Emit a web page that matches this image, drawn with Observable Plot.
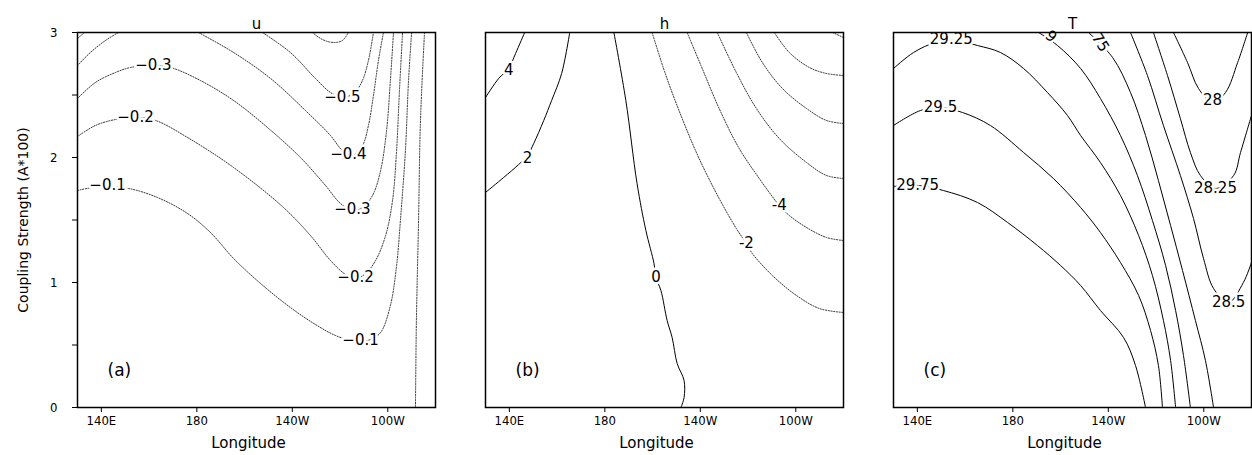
<!DOCTYPE html>
<html><head><meta charset="utf-8">
<script src="https://cdn.jsdelivr.net/npm/d3@7"></script>
<script src="https://cdn.jsdelivr.net/npm/@observablehq/plot@0.6"></script>
<style>
body{margin:0;background:#fff;}
#chart{width:1252px;height:455px;overflow:hidden;}
</style></head><body><div id="chart"></div>
<script>
// ---------- panels, ticks ----------
const panels = ["u", "h", "T"];
const panelTags = ["(a)", "(b)", "(c)"];
const xTicks = [140, 180, 220, 260];
const xTickLabels = ["140E", "180", "140W", "100W"];
const yTicks = [0, 0.5, 1, 1.5, 2, 2.5, 3];
const yTickLabels = ["0", "", "1", "", "2", "", "3"];

// ---------- panel (a) u : contours [longitude (deg E), coupling strength] ----------
const u_m06  = [[228.4,3.0],[232.6,2.944],[237.2,2.92],[241.0,2.936],[243.5,3.0]];
const u_m05a = [[130,2.952],[132.9,3.0]];
const u_m05  = [[207.5,3.0],[219.2,2.84],[229.7,2.632],[236.0,2.52],[241.0,2.48],[246.1,2.52],[249.4,2.616],[251.9,2.776],[254.0,3.0]];
const u_m04a = [[130,2.736],[135.4,2.84],[141.7,2.936],[147.2,3.0]];
const u_m04  = [[180.7,3.0],[195.4,2.84],[210.9,2.632],[225.5,2.376],[236.0,2.176],[241.0,2.056],[245.2,2.016],[249.4,2.096],[251.9,2.256],[254.0,2.496],[256.1,2.776],[258.2,3.0]];
const u_m03  = [[130,2.472],[137.5,2.6],[145.9,2.68],[152.2,2.72],[161.8,2.736],[169.0,2.72],[181.5,2.616],[195.4,2.456],[209.6,2.24],[223.4,2.0],[233.9,1.776],[240.2,1.632],[245.2,1.576],[249.4,1.6],[253.6,1.696],[257.0,1.896],[259.5,2.216],[261.1,2.616],[262.4,3.0]];
const u_m02  = [[130,2.168],[137.5,2.256],[145.9,2.304],[154.3,2.32],[162.7,2.296],[176.1,2.16],[195.4,1.92],[216.3,1.6],[227.6,1.376],[236.0,1.176],[242.3,1.064],[246.5,1.032],[250.7,1.072],[254.9,1.176],[259.1,1.376],[262.0,1.656],[263.7,2.056],[264.9,2.536],[266.2,3.0]];
const u_m01  = [[130,1.736],[139.6,1.768],[151.4,1.752],[163.5,1.68],[176.1,1.552],[185.7,1.40],[195.4,1.192],[206.7,0.992],[219.2,0.80],[229.7,0.664],[238.1,0.576],[246.5,0.528],[252.8,0.544],[257.0,0.60],[261.1,0.816],[263.7,1.136],[265.3,1.496],[267.4,2.056],[268.7,2.616],[270.0,3.0]];
const u_0    = [[275.4,3.0],[273.7,2.296],[272.9,1.496],[272.0,0.696],[271.6,0]];
const uLabels = [["−0.3",161.8,2.736],["−0.2",154.3,2.32],["−0.1",142.6,1.776],["−0.5",241.0,2.48],["−0.4",243.5,2.03],["−0.3",245.2,1.59],["−0.2",246.5,1.04],["−0.1",248.6,0.536]];

// ---------- panel (b) h ----------
const h_4   = [[130,2.48],[135.5,2.632],[139.7,2.712],[142.6,2.832],[146.4,3.0]];
const h_2   = [[130,1.72],[137.6,1.84],[143.9,1.944],[147.6,2.016],[150.2,2.112],[154.4,2.296],[157.7,2.456],[161.9,2.672],[165.3,3.0]];
const h_0   = [[183.8,3.0],[188.8,2.456],[193.5,1.792],[197.2,1.416],[200.6,1.152],[201.4,1.04],[203.5,0.936],[206.1,0.696],[208.2,0.56],[210.3,0.352],[213.2,0.216],[213.2,0.08],[211.9,0]];
const h_m2  = [[199.8,3.0],[205.6,2.656],[212.4,2.312],[219.5,1.992],[227.9,1.672],[235.1,1.432],[239.3,1.312],[241.8,1.232],[250.2,1.056],[260.3,0.896],[269.9,0.792],[280,0.76]];
const h_m4  = [[214.5,3.0],[220.8,2.712],[227.9,2.392],[236.3,2.072],[244.7,1.832],[248.9,1.72],[253.1,1.616],[257.3,1.536],[264.5,1.44],[272.9,1.36],[280,1.336]];
const h_m6  = [[227.1,3.0],[235.1,2.68],[243.5,2.392],[253.1,2.152],[264.5,1.96],[272.9,1.856],[280,1.832]];
const h_m8  = [[239.3,3.0],[246.0,2.76],[254.4,2.552],[264.5,2.392],[272.9,2.296],[280,2.272]];
const h_m10 = [[251.0,3.0],[257.3,2.84],[265.7,2.72],[272.9,2.672],[280,2.656]];
const h_m12 = [[275.4,3.0],[280,2.96]];
const hLabels = [["4",139.7,2.696],["2",147.6,1.992],["0",201.4,1.04],["-2",239.3,1.312],["-4",253.1,1.616]];

// ---------- panel (c) T ----------
const T_2975 = [[130,1.768],[140.5,1.776],[150.9,1.736],[165.2,1.64],[177.8,1.48],[190.3,1.296],[200.0,1.136],[208.4,0.976],[216.7,0.776],[226.4,0.56],[231.4,0.336],[235.6,0]];
const T_295  = [[130,2.256],[141.3,2.376],[149.7,2.4],[158.9,2.36],[170.6,2.256],[184.5,2.04],[197.0,1.832],[208.4,1.6],[216.7,1.4],[225.1,1.16],[232.7,0.896],[237.7,0.616],[241.0,0.336],[242.7,0]];
const T_2925 = [[130,2.712],[138.4,2.84],[147.6,2.92],[156.0,2.936],[165.2,2.896],[174.8,2.84],[184.5,2.712],[194.5,2.52],[202.9,2.336],[208.4,2.176],[216.7,1.96],[225.1,1.696],[232.7,1.376],[238.5,1.056],[243.1,0.696],[246.1,0.376],[248.2,0]];
const T_29   = [[190.8,3.0],[198.7,2.896],[208.4,2.712],[216.7,2.472],[225.1,2.176],[232.2,1.856],[238.5,1.496],[244.0,1.136],[248.2,0.776],[251.5,0.416],[254.4,0]];
const T_2875 = [[211.7,3.0],[221.8,2.8],[229.3,2.52],[235.6,2.176],[241.0,1.816],[246.1,1.456],[251.1,1.096],[256.5,0.696],[260.7,0.376],[264.1,0]];
const T_285  = [[229.3,3.0],[236.4,2.656],[243.1,2.256],[250.2,1.856],[255.7,1.512],[259.9,1.192],[264.1,0.952],[270.4,0.84],[276.6,1.0],[280,1.16]];
const T_2825 = [[238.9,3.0],[244.8,2.656],[250.2,2.312],[254.4,2.04],[258.6,1.856],[264.9,1.752],[272.5,1.856],[275.4,2.04],[280,2.336]];
const T_28   = [[247.3,3.0],[253.2,2.76],[257.8,2.552],[263.7,2.44],[269.1,2.52],[274.2,2.76],[278.4,3.0]];
const TLabels = [["29.25",154.2,2.944,0],["29.5",149.7,2.4,0],["29.75",140.1,1.776,0],["9",196.0,2.968,40],["75",216.7,2.92,58],["28",263.7,2.456,0],["28.25",264.9,1.752,0],["28.5",270.4,0.84,0]];

// ---------- build tables ----------
const lines = [
  ["u","dot",u_m06],["u","dot",u_m05a],["u","dot",u_m05],["u","dot",u_m04a],["u","dot",u_m04],
  ["u","dot",u_m03],["u","dot",u_m02],["u","dot",u_m01],["u","dot",u_0],
  ["h","solid",h_4],["h","solid",h_2],["h","solid",h_0],["h","dot",h_m2],["h","dot",h_m4],
  ["h","dot",h_m6],["h","dot",h_m8],["h","dot",h_m10],["h","dot",h_m12],
  ["T","solid",T_2975],["T","solid",T_295],["T","solid",T_2925],["T","solid",T_29],
  ["T","solid",T_2875],["T","solid",T_285],["T","solid",T_2825],["T","solid",T_28]
];
const rows = [];
lines.forEach(([panel, style, pts], id) => pts.forEach(([lon, A]) => rows.push({panel, style, id, lon, A})));
const labels = [];
uLabels.forEach(([t, lon, A]) => labels.push({panel: "u", t, lon, A, r: 0}));
hLabels.forEach(([t, lon, A]) => labels.push({panel: "h", t, lon, A, r: 0}));
TLabels.forEach(([t, lon, A, r]) => labels.push({panel: "T", t, lon, A, r}));
const xFmt = new Map(xTicks.map((d, i) => [d, xTickLabels[i]]));
const yFmt = new Map(yTicks.map((d, i) => [d, yTickLabels[i]]));

const tickFont = "'Liberation Sans Narrow', 'DejaVu Sans Condensed', 'Liberation Sans', sans-serif";
const mainFont = "'DejaVu Sans', 'Liberation Sans', sans-serif";

const chart = Plot.plot({
  width: 1252, height: 455,
  marginLeft: 77, marginRight: 1, marginTop: 32, marginBottom: 48,
  style: {background: "white", fontFamily: mainFont, color: "black"},
  fx: {domain: panels, paddingInner: 0.12255, paddingOuter: 0, axis: null, label: null},
  x: {domain: [130, 280]},
  y: {domain: [0, 3]},
  marks: [
    Plot.line(rows.filter(d => d.style === "dot"), {x: "lon", y: "A", z: "id", fx: "panel", stroke: "#111", strokeWidth: 0.85, strokeDasharray: "1.2,1.5", curve: "catmull-rom", clip: true}),
    Plot.line(rows.filter(d => d.style === "solid"), {x: "lon", y: "A", z: "id", fx: "panel", stroke: "#000", strokeWidth: 1, curve: "catmull-rom", clip: true}),
    Plot.text(labels, {x: "lon", y: "A", fx: "panel", text: "t", rotate: "r", fill: "black", stroke: "white", strokeWidth: 5, fontSize: 15, fontFamily: mainFont}),
    Plot.frame({stroke: "black", strokeWidth: 1.5}),
    Plot.axisX({ticks: xTicks, tickFormat: d => xFmt.get(d), tickSize: 5, tickPadding: 3, fontSize: 13, fontFamily: tickFont, label: null}),
    Plot.axisY({ticks: yTicks, tickFormat: d => yFmt.get(d), tickSize: 5, tickPadding: 15, fontSize: 13, fontFamily: tickFont, label: null}),
    Plot.text(panels, {fx: d => d, text: d => d, frameAnchor: "top", dy: -14, fontSize: 15, fontFamily: mainFont}),
    Plot.text(panels, {fx: d => d, text: () => "Longitude", frameAnchor: "bottom", dy: 40, dx: -8, fontSize: 15, fontFamily: mainFont}),
    Plot.text(["u"], {fx: d => d, text: () => "Coupling Strength (A*100)", frameAnchor: "left", textAnchor: "middle", rotate: -90, dx: -54, fontSize: 14, fontFamily: mainFont}),
    Plot.text(panelTags, {fx: (d, i) => panels[i], text: d => d, frameAnchor: "bottom-left", dx: 30, dy: -32, fontSize: 17, fontFamily: mainFont})
  ]
});
document.getElementById("chart").appendChild(chart);
</script>
</body></html>
